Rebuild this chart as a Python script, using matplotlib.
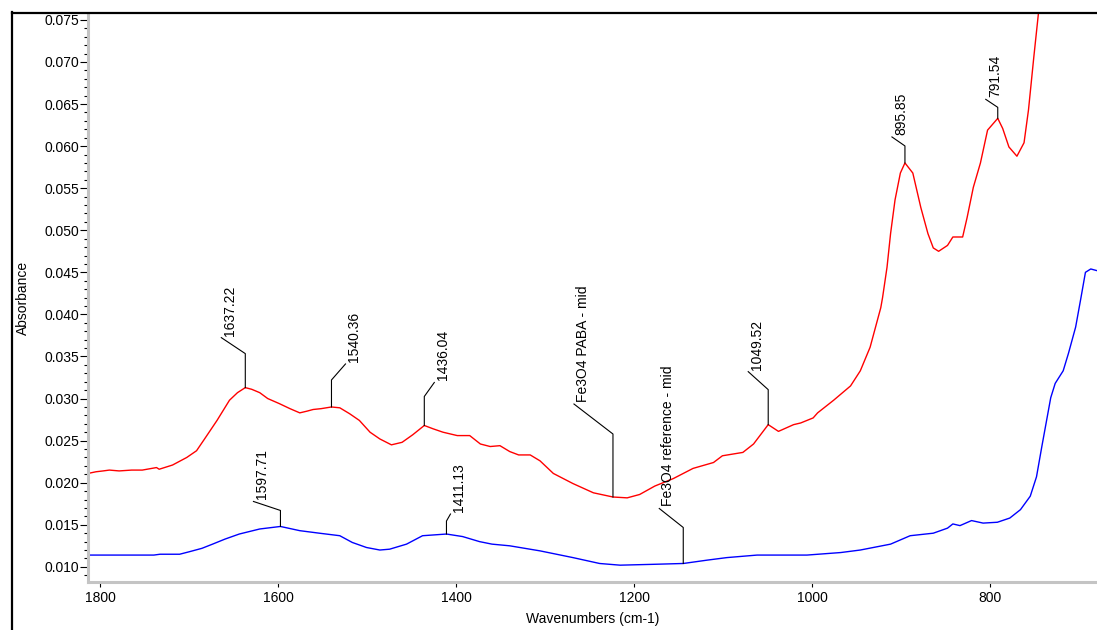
import matplotlib

matplotlib.use("Agg")
import matplotlib.pyplot as plt
import numpy as np
from matplotlib.lines import Line2D
from matplotlib.ticker import MultipleLocator, FormatStrFormatter

plt.rcParams["font.family"] = ["Liberation Sans", "DejaVu Sans"]

# Fe3O4 PABA - mid spectrum (wavenumber, absorbance)
paba_wn = [1814, 1805, 1797, 1790, 1779, 1765, 1753, 1737, 1734, 1719, 1703, 1692,
           1683, 1669, 1655, 1646, 1637.22, 1630, 1621, 1612, 1599, 1587, 1576, 1568,
           1561, 1552, 1540.36, 1531, 1520, 1509, 1497, 1486, 1473, 1461, 1449,
           1436.04, 1426, 1415, 1399, 1385, 1373, 1362, 1351, 1340, 1330, 1317, 1306,
           1291, 1269, 1246, 1224, 1208, 1194, 1177, 1156, 1134, 1111, 1101, 1078,
           1066, 1049.52, 1038, 1021, 1013, 999, 994, 976, 957, 946, 935, 923, 921,
           916, 912, 907, 901, 895.85, 887, 878, 870, 864, 858, 848, 842, 831, 826,
           819, 811, 803, 791.54, 786, 779, 770, 762, 757, 751, 746, 740, 730]
paba_abs = [0.0211, 0.0213, 0.0214, 0.0215, 0.0214, 0.0215, 0.0215, 0.0218, 0.0216,
            0.0221, 0.0230, 0.0238, 0.0252, 0.0274, 0.0298, 0.0307, 0.0313, 0.0311,
            0.0307, 0.0300, 0.0294, 0.0288, 0.0283, 0.0285, 0.0287, 0.0288, 0.0290,
            0.0289, 0.0282, 0.0274, 0.0260, 0.0252, 0.0245, 0.0248, 0.0257, 0.0268,
            0.0264, 0.0260, 0.0256, 0.0256, 0.0246, 0.0243, 0.0244, 0.0237, 0.0233,
            0.0233, 0.0226, 0.0211, 0.0199, 0.0188, 0.0183, 0.0182, 0.0186, 0.0196,
            0.0205, 0.0217, 0.0224, 0.0232, 0.0236, 0.0246, 0.0269, 0.0261, 0.0269,
            0.0271, 0.0277, 0.0283, 0.0298, 0.0315, 0.0333, 0.0361, 0.0408, 0.0420,
            0.0456, 0.0496, 0.0536, 0.0568, 0.0580, 0.0568, 0.0527, 0.0496, 0.0479,
            0.0475, 0.0482, 0.0492, 0.0492, 0.0515, 0.0551, 0.0580, 0.0619, 0.0633,
            0.0621, 0.0599, 0.0588, 0.0604, 0.0643, 0.0706, 0.0756, 0.0820, 0.0950]

# Fe3O4 reference - mid spectrum
ref_wn = [1814, 1740, 1733, 1711, 1700, 1686, 1674, 1660, 1644, 1621, 1597.71, 1576,
          1554, 1531, 1517, 1501, 1486, 1475, 1456, 1438, 1411.13, 1393, 1374, 1360,
          1340, 1306, 1269, 1239, 1216, 1179, 1145, 1118, 1096, 1062, 1006, 968, 946,
          912, 890, 864, 848, 842, 834, 821, 808, 792, 778, 766, 755, 748, 742, 732,
          727, 718, 712, 704, 698, 693, 687, 680]
ref_abs = [0.0114, 0.0114, 0.0115, 0.0115, 0.0118, 0.0122, 0.0127, 0.0133, 0.0139,
           0.0145, 0.0148, 0.0143, 0.0140, 0.0137, 0.0129, 0.0123, 0.0120, 0.0121,
           0.0127, 0.0137, 0.0139, 0.0136, 0.0130, 0.0127, 0.0125, 0.0119, 0.0111,
           0.0104, 0.0102, 0.0103, 0.0104, 0.0108, 0.0111, 0.0114, 0.0114, 0.0117,
           0.0120, 0.0127, 0.0137, 0.0140, 0.0146, 0.0151, 0.0149, 0.0155, 0.0152,
           0.0153, 0.0158, 0.0168, 0.0184, 0.0207, 0.0243, 0.0301, 0.0318, 0.0333,
           0.0354, 0.0385, 0.0420, 0.0450, 0.0454, 0.0452]

# peak / spectrum labels: (text, wavenumber, series, stem px, diagonal dx px, dy px)
labels = [
    ("1637.22", 1637.22, "paba", 34, -24, 16),
    ("1540.36", 1540.36, "paba", 27, 14, 16),
    ("1436.04", 1436.04, "paba", 29, 10, 14),
    ("Fe3O4 PABA - mid", 1224.0, "paba", 63, -39, 30),
    ("1049.52", 1049.52, "paba", 35, -20, 18),
    ("895.85", 895.85, "paba", 17, -13, 9),
    ("791.54", 791.54, "paba", 11, -12, 8),
    ("1597.71", 1597.71, "ref", 16, -27, 9),
    ("1411.13", 1411.13, "ref", 13, 4, 7),
    ("Fe3O4 reference - mid", 1145.0, "ref", 36, -24, 19),
]

series = {"paba": (np.array(paba_wn), np.array(paba_abs)),
          "ref": (np.array(ref_wn), np.array(ref_abs))}

fig = plt.figure(figsize=(10.97, 6.30), dpi=100)
ax = fig.add_axes([88 / 1097, 1 - 582 / 630, 1 - 88 / 1097, (582 - 14) / 630])

ax.plot(paba_wn, paba_abs, color="#ff0000", lw=1.0)
ax.plot(ref_wn, ref_abs, color="#0000ff", lw=1.0)

ax.set_xlim(1814, 680)
ax.set_ylim(0.0082, 0.0757)

ax.xaxis.set_major_locator(MultipleLocator(200))
ax.xaxis.set_minor_locator(MultipleLocator(50))
ax.yaxis.set_major_locator(MultipleLocator(0.005))
ax.yaxis.set_minor_locator(MultipleLocator(0.001))
ax.yaxis.set_major_formatter(FormatStrFormatter("%.3f"))

for side in ("top", "right"):
    ax.spines[side].set_visible(False)
for side in ("left", "bottom"):
    ax.spines[side].set_color("#c4c4c4")
    ax.spines[side].set_linewidth(2.2)

ax.tick_params(axis="y", which="major", direction="out", length=5.5, width=0.8,
               color="black", labelsize=10, pad=1)
ax.tick_params(axis="y", which="minor", direction="out", length=3, width=0.8,
               color="black")
ax.tick_params(axis="x", which="major", direction="out", length=3.5, width=0.8,
               color="black", labelsize=10, pad=3)
ax.tick_params(axis="x", which="minor", direction="inout", length=2, width=0.8,
               color="#333333")

ax.set_xlabel("Wavenumbers (cm-1)", fontsize=10, labelpad=5)
ax.set_ylabel("Absorbance", fontsize=10, labelpad=10)

# leader lines with rotated labels
to_disp = ax.transData
to_data = ax.transData.inverted()
for text, wn, key, stem, dx, dy in labels:
    xs, ys = series[key]
    y = np.interp(wn, xs[::-1], ys[::-1])
    px, py = to_disp.transform((wn, y))
    verts = np.array([[px, py], [px, py + stem], [px + dx, py + stem + dy]])
    data_pts = to_data.transform(verts)
    ax.plot(data_pts[:, 0], data_pts[:, 1], color="black", lw=0.8, clip_on=False)
    tx, ty = to_data.transform((px + dx + 2, py + stem + dy + 2))
    ax.text(tx, ty, text, rotation=90, rotation_mode="anchor", ha="left", va="top",
            fontsize=10, color="black")

# outer frame edges
fig.add_artist(Line2D([12 / 1097, 12 / 1097], [0, 1 - 12 / 630], color="black", lw=1.6))
fig.add_artist(Line2D([12 / 1097, 1], [1 - 13 / 630, 1 - 13 / 630], color="black", lw=1.6))

fig.savefig("out.png", dpi=100)
